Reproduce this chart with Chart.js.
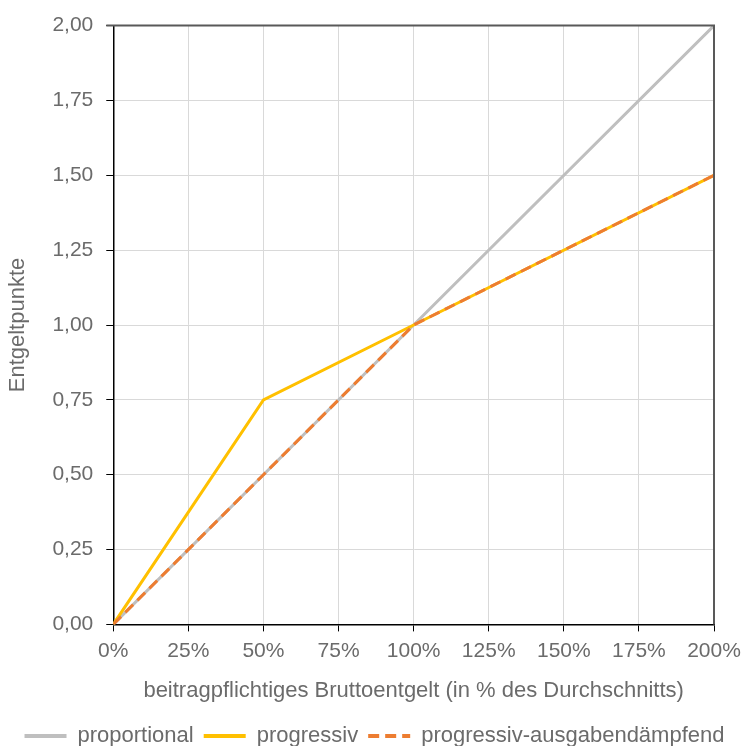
<!DOCTYPE html>
<html>
<head>
<meta charset="utf-8">
<script src="https://cdn.jsdelivr.net/npm/chart.js@4.4.1/dist/chart.umd.min.js"></script>
<style>
  html, body { margin: 0; padding: 0; background: #fff; }
  #wrap { width: 744px; height: 746px; }
</style>
</head>
<body>
<div id="wrap"><canvas id="myChart" width="744" height="746"></canvas></div>
<script>
// Werte aus der Grafik
const xWerte = [0, 50, 100, 200];
const proportional = [0, 0.5, 1, 2];
const progressiv = [0, 0.75, 1, 1.5];
const progressivDaempfend = [0, 0.5, 1, 1.5];
const serienNamen = ["proportional", "progressiv", "progressiv-ausgabendämpfend"];

const textFarbe = "#6b6b6b";
const schrift = "'Liberation Sans', Arial, sans-serif";

function punkte(werte) {
    return werte.map(function (v, i) { return { x: xWerte[i], y: v }; });
}

// oberer und rechter Rahmen
const rahmen = {
    id: "rahmen",
    afterDatasetsDraw(chart) {
        const a = chart.chartArea;
        const ctx = chart.ctx;
        ctx.save();
        ctx.strokeStyle = "#595959";
        ctx.lineWidth = 2;
        ctx.beginPath();
        ctx.moveTo(a.left - 7, a.top);
        ctx.lineTo(a.right, a.top);
        ctx.lineTo(a.right, a.bottom);
        ctx.stroke();
        ctx.restore();
    }
};

var ctx = document.getElementById("myChart").getContext("2d");
var chart = new Chart(ctx, {
    type: "line",
    data: {
        datasets: [
            {
                label: serienNamen[0],
                data: punkte(proportional),
                borderColor: "#bfbfbf",
                backgroundColor: "#bfbfbf",
                borderWidth: 3,
                pointRadius: 0,
                order: 3
            },
            {
                label: serienNamen[1],
                data: punkte(progressiv),
                borderColor: "#ffc000",
                backgroundColor: "#ffc000",
                borderWidth: 3,
                pointRadius: 0,
                order: 2
            },
            {
                label: serienNamen[2],
                data: punkte(progressivDaempfend),
                borderColor: "#ed7d31",
                backgroundColor: "#ed7d31",
                borderWidth: 3,
                borderDash: [11, 6],
                pointRadius: 0,
                order: 1
            }
        ]
    },
    options: {
        responsive: false,
        animation: false,
        layout: { padding: { left: 5, right: 0, top: 10, bottom: -11 } },
        plugins: {
            tooltip: { enabled: false },
            legend: {
                position: "bottom",
                labels: {
                    usePointStyle: true,
                    pointStyle: "line",
                    pointStyleWidth: 42,
                    padding: 10,
                    color: textFarbe,
                    font: { family: schrift, size: 22 },
                    sort: function (a, b) { return a.datasetIndex - b.datasetIndex; },
                    generateLabels: function (chart) {
                        var items = Chart.defaults.plugins.legend.labels.generateLabels(chart);
                        items.forEach(function (it) {
                            var ds = chart.data.datasets[it.datasetIndex];
                            it.lineDash = ds.borderDash || [];
                            it.lineWidth = 4;
                            it.strokeStyle = ds.borderColor;
                        });
                        return items;
                    }
                }
            }
        },
        scales: {
            x: {
                type: "linear",
                min: 0,
                max: 200,
                afterFit: function (scale) { scale.paddingRight = 30; },
                ticks: {
                    stepSize: 25,
                    color: textFarbe,
                    font: { family: schrift, size: 21 },
                    padding: 7,
                    maxRotation: 0,
                    callback: function (v) { return v + "%"; }
                },
                grid: { color: "#d9d9d9", tickColor: "#000", tickLength: 7 },
                border: { color: "#000", width: 1.5 },
                title: {
                    display: true,
                    text: "beitragpflichtiges Bruttoentgelt (in % des Durchschnitts)",
                    color: textFarbe,
                    font: { family: schrift, size: 22 },
                    padding: { top: 7, bottom: 11 }
                }
            },
            y: {
                min: 0,
                max: 2,
                ticks: {
                    stepSize: 0.25,
                    color: textFarbe,
                    font: { family: schrift, size: 21 },
                    padding: 13,
                    callback: function (v) { return v.toFixed(2).replace(".", ","); }
                },
                grid: { color: "#d9d9d9", tickColor: "#000", tickLength: 7 },
                border: { color: "#000", width: 1.5 },
                title: {
                    display: true,
                    text: "Entgeltpunkte",
                    color: textFarbe,
                    font: { family: schrift, size: 22 },
                    padding: { top: 0, bottom: 8 }
                }
            }
        }
    },
    plugins: [rahmen]
});
</script>
</body>
</html>
